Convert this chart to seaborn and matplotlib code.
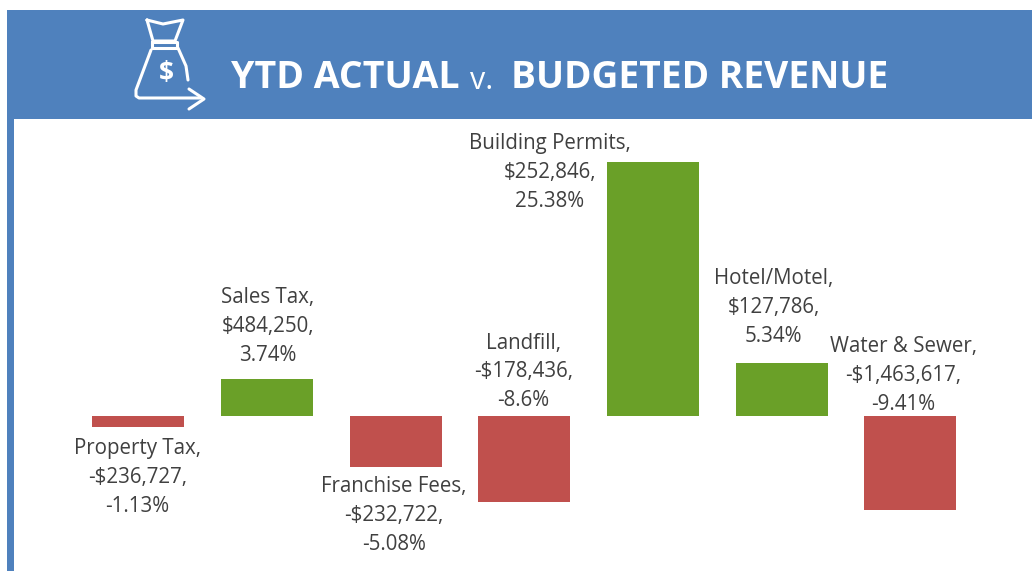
import matplotlib
matplotlib.use("Agg")
import matplotlib.pyplot as plt
import seaborn as sns
import pandas as pd
from matplotlib.patches import Rectangle

W, H = 1032, 571

categories = ["Property Tax", "Sales Tax", "Franchise Fees", "Landfill",
              "Building Permits", "Hotel/Motel", "Water & Sewer"]
pct_values = [-1.13, 3.74, -5.08, -8.6, 25.38, 5.34, -9.41]
dollar_labels = ["-$236,727", "$484,250", "-$232,722", "-$178,436",
                 "$252,846", "$127,786", "-$1,463,617"]
pct_labels = ["-1.13%", "3.74%", "-5.08%", "-8.6%", "25.38%", "5.34%", "-9.41%"]

# label offsets from the bar end, in pixels (centre x, centre y of the block)
label_dx = [-1, 1, -2, -1, -103, -8, -7]
label_dy = [-50, 52, -49, 130, -10, 55, 135]

BLUE = "#4f81bd"
RED = "#c0504d"
GREEN = "#6aa028"
TEXT = "#404040"

sns.set_theme(style="white")
plt.rcParams["font.family"] = ["Open Sans", "DejaVu Sans"]

df = pd.DataFrame({"item": categories, "pct": pct_values})
df["sign"] = ["up" if v > 0 else "down" for v in pct_values]

fig = plt.figure(figsize=(W / 100, H / 100), dpi=100, facecolor="white")

# chart area, the value axis is hidden
ax = fig.add_axes([74 / W, 0, (974.6 - 74) / W, (H - 120) / H])
sns.barplot(data=df, x="item", y="pct", hue="sign", dodge=False, width=0.715,
            palette={"up": GREEN, "down": RED}, saturation=1, linewidth=0,
            legend=False, ax=ax)
ax.set_xlim(-0.5, 6.5)
ax.set_ylim(-15.5, 29.6)
ax.axis("off")

for i, v in enumerate(pct_values):
    txt = f"{categories[i]},\n{dollar_labels[i]},\n{pct_labels[i]}"
    ax.annotate(txt, xy=(i, v), xytext=(label_dx[i] * 0.72, label_dy[i] * 0.72),
                textcoords="offset points", ha="center", va="center",
                fontsize=14.8, color=TEXT, linespacing=1.5, clip_on=False,
                annotation_clip=False)

# header band and icon, drawn in pixel coordinates
deco = fig.add_axes([0, 0, 1, 1], zorder=5)
deco.set_xlim(0, W)
deco.set_ylim(H, 0)
deco.axis("off")
deco.add_patch(Rectangle((7, 10), W - 7, 108.5, color=BLUE, lw=0))
deco.add_patch(Rectangle((7, 112), 7, H - 112, color=BLUE, lw=0))

icon_lines = [
    ([147, 163, 183, 175, 153, 147], [20, 24, 20, 41, 41, 20]),
    ([152, 177, 177, 152, 152], [42, 42, 48, 48, 42]),
    ([151, 136, 136, 139, 200], [50, 90, 96, 98, 98]),
    ([178, 186, 188], [48, 66, 80]),
    ([189, 204, 189], [89, 99, 109]),
]
for xs, ys in icon_lines:
    deco.plot(xs, ys, color="white", lw=2.2, solid_capstyle="round", solid_joinstyle="round")
deco.text(166, 74, "$", color="white", fontsize=19, fontweight="bold",
          ha="center", va="center")

deco.text(231, 78, "YTD ACTUAL", color="white", fontsize=27, fontweight="bold",
          ha="left", va="center")
deco.text(470, 81, "v.", color="white", fontsize=22, ha="left", va="center")
deco.text(511, 78, "BUDGETED REVENUE", color="white", fontsize=26.7, fontweight="bold",
          ha="left", va="center")

fig.savefig("out.png", dpi=100)
